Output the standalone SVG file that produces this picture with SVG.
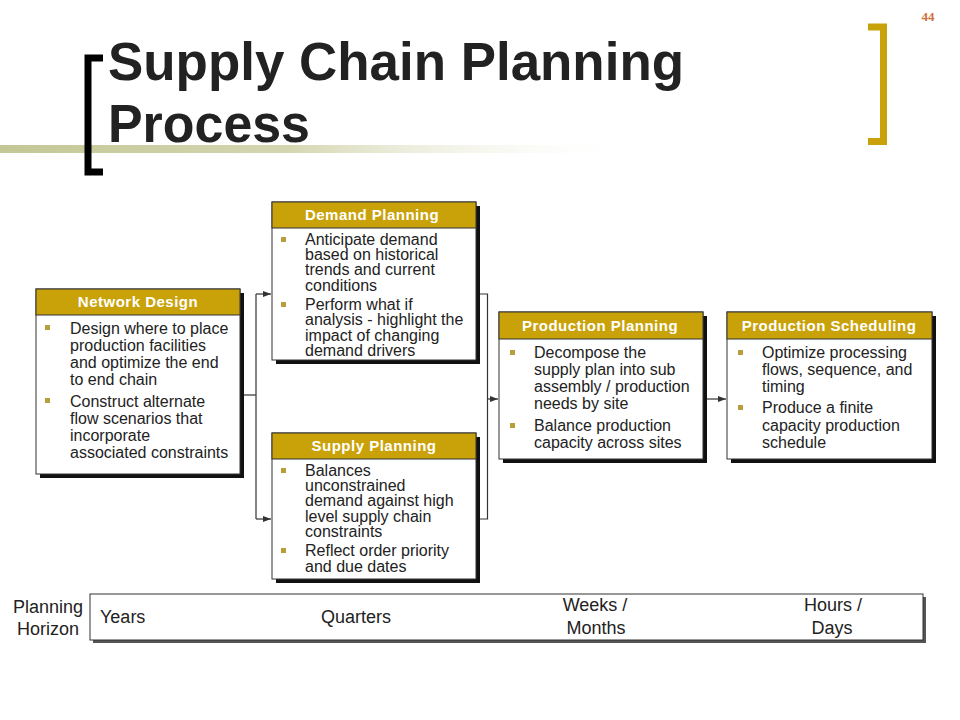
<svg xmlns="http://www.w3.org/2000/svg" width="960" height="720" viewBox="0 0 960 720">
<defs>
<linearGradient id="band" x1="0" y1="0" x2="1" y2="0">
<stop offset="0" stop-color="#c3c795"/>
<stop offset="0.45" stop-color="#d4d6b0"/>
<stop offset="1" stop-color="#ffffff" stop-opacity="0"/>
</linearGradient>
<marker id="arr" markerWidth="8" markerHeight="6" refX="8" refY="3" orient="auto" markerUnits="userSpaceOnUse">
<path d="M0,0 L8,3 L0,6 z" fill="#333"/>
</marker>
<style>
.title{font-family:"Liberation Sans",Arial,sans-serif;font-weight:bold;font-size:54px;fill:#222}
.shadow{fill:#111}
.body{fill:#fff;stroke:#333;stroke-width:1}
.head{fill:#c9a20a;stroke:#333;stroke-width:1}
.ht{font-family:"Liberation Sans",Arial,sans-serif;font-weight:bold;font-size:15px;letter-spacing:0.5px;fill:#fff;text-anchor:middle}
.bt{font-family:"Liberation Sans",Arial,sans-serif;font-size:16px;fill:#222}
.bul{fill:#b89e3a}
.conn{fill:none;stroke:#333;stroke-width:1.2}
.ph{font-family:"Liberation Sans",Arial,sans-serif;font-size:18px;fill:#222}
</style>
</defs>
<rect width="960" height="720" fill="#fff"/>
<rect x="0" y="145" width="640" height="8" fill="url(#band)"/>
<text class="title" x="108" y="80" textLength="576" lengthAdjust="spacingAndGlyphs">Supply Chain Planning</text>
<text class="title" x="108" y="142" textLength="202" lengthAdjust="spacingAndGlyphs">Process</text>
<path d="M103,58 H88 V172 H103" fill="none" stroke="#000" stroke-width="7"/>
<path d="M868,27 H883.5 V141.5 H868" fill="none" stroke="#c9a20a" stroke-width="7"/>
<text x="928" y="21" font-family="Liberation Serif,serif" font-weight="bold" font-size="13" fill="#d0703a" text-anchor="middle">44</text>

<g id="connectors">
<path class="conn" d="M243,395 H256"/>
<path class="conn" d="M256,294 V519"/>
<path class="conn" d="M256,294 H271" marker-end="url(#arr)"/>
<path class="conn" d="M256,519 H271" marker-end="url(#arr)"/>
<path class="conn" d="M479,294 H487.5 V519 H479"/>
<path class="conn" d="M487.5,399 H498" marker-end="url(#arr)"/>
<path class="conn" d="M706,399 H726" marker-end="url(#arr)"/>
</g>

<g id="network-design">
<rect class="shadow" x="40" y="293" width="204" height="185"/>
<rect class="body" x="36" y="289" width="204" height="185"/>
<rect class="head" x="36" y="289" width="204" height="26"/>
<text class="ht" x="138" y="307">Network Design</text>
<rect class="bul" x="45" y="325" width="5" height="5"/>
<rect class="bul" x="45" y="398" width="5" height="5"/>
<text class="bt"><tspan x="70" y="334">Design where to place</tspan><tspan x="70" y="351">production facilities</tspan><tspan x="70" y="368">and optimize the end</tspan><tspan x="70" y="385">to end chain</tspan><tspan x="70" y="407">Construct alternate</tspan><tspan x="70" y="424">flow scenarios that</tspan><tspan x="70" y="441">incorporate</tspan><tspan x="70" y="458">associated constraints</tspan></text>
</g>

<g id="demand-planning">
<rect class="shadow" x="276" y="206" width="204" height="158"/>
<rect class="body" x="272" y="202" width="204" height="158"/>
<rect class="head" x="272" y="202" width="204" height="26"/>
<text class="ht" x="372" y="220">Demand Planning</text>
<rect class="bul" x="281" y="237" width="5" height="5"/>
<rect class="bul" x="281" y="302" width="5" height="5"/>
<text class="bt"><tspan x="305" y="245">Anticipate demand</tspan><tspan x="305" y="260">based on historical</tspan><tspan x="305" y="275">trends and current</tspan><tspan x="305" y="291">conditions</tspan><tspan x="305" y="310">Perform what if</tspan><tspan x="305" y="325">analysis - highlight the</tspan><tspan x="305" y="341">impact of changing</tspan><tspan x="305" y="356">demand drivers</tspan></text>
</g>

<g id="supply-planning">
<rect class="shadow" x="276" y="437" width="204" height="146"/>
<rect class="body" x="272" y="433" width="204" height="146"/>
<rect class="head" x="272" y="433" width="204" height="26"/>
<text class="ht" x="374" y="451">Supply Planning</text>
<rect class="bul" x="281" y="468" width="5" height="5"/>
<rect class="bul" x="281" y="548" width="5" height="5"/>
<text class="bt"><tspan x="305" y="476">Balances</tspan><tspan x="305" y="491">unconstrained</tspan><tspan x="305" y="506">demand against high</tspan><tspan x="305" y="522">level supply chain</tspan><tspan x="305" y="537">constraints</tspan><tspan x="305" y="556">Reflect order priority</tspan><tspan x="305" y="572">and due dates</tspan></text>
</g>

<g id="production-planning">
<rect class="shadow" x="503" y="316" width="204" height="147"/>
<rect class="body" x="499" y="312" width="204" height="147"/>
<rect class="head" x="499" y="312" width="204" height="27"/>
<text class="ht" x="600" y="331">Production Planning</text>
<rect class="bul" x="510" y="350" width="5" height="5"/>
<rect class="bul" x="510" y="423" width="5" height="5"/>
<text class="bt"><tspan x="534" y="358">Decompose the</tspan><tspan x="534" y="375">supply plan into sub</tspan><tspan x="534" y="392">assembly / production</tspan><tspan x="534" y="409">needs by site</tspan><tspan x="534" y="431">Balance production</tspan><tspan x="534" y="448">capacity across sites</tspan></text>
</g>

<g id="production-scheduling">
<rect class="shadow" x="731" y="316" width="205" height="147"/>
<rect class="body" x="727" y="312" width="205" height="147"/>
<rect class="head" x="727" y="312" width="205" height="27"/>
<text class="ht" x="829" y="331">Production Scheduling</text>
<rect class="bul" x="738" y="350" width="5" height="5"/>
<rect class="bul" x="738" y="405" width="5" height="5"/>
<text class="bt"><tspan x="762" y="358">Optimize processing</tspan><tspan x="762" y="375">flows, sequence, and</tspan><tspan x="762" y="392">timing</tspan><tspan x="762" y="413">Produce a finite</tspan><tspan x="762" y="431">capacity production</tspan><tspan x="762" y="448">schedule</tspan></text>
</g>

<g id="planning-horizon">
<text class="ph" x="48" y="613" text-anchor="middle">Planning</text>
<text class="ph" x="48" y="635" text-anchor="middle">Horizon</text>
<rect x="93" y="597" width="833" height="46" fill="#555"/>
<rect x="90" y="594" width="833" height="46" fill="#fff" stroke="#333" stroke-width="1"/>
<text class="ph" x="100" y="623">Years</text>
<text class="ph" x="356" y="623" text-anchor="middle">Quarters</text>
<text class="ph" x="595" y="611" text-anchor="middle">Weeks /</text>
<text class="ph" x="596" y="634" text-anchor="middle">Months</text>
<text class="ph" x="833" y="611" text-anchor="middle">Hours /</text>
<text class="ph" x="832" y="634" text-anchor="middle">Days</text>
</g>
</svg>
